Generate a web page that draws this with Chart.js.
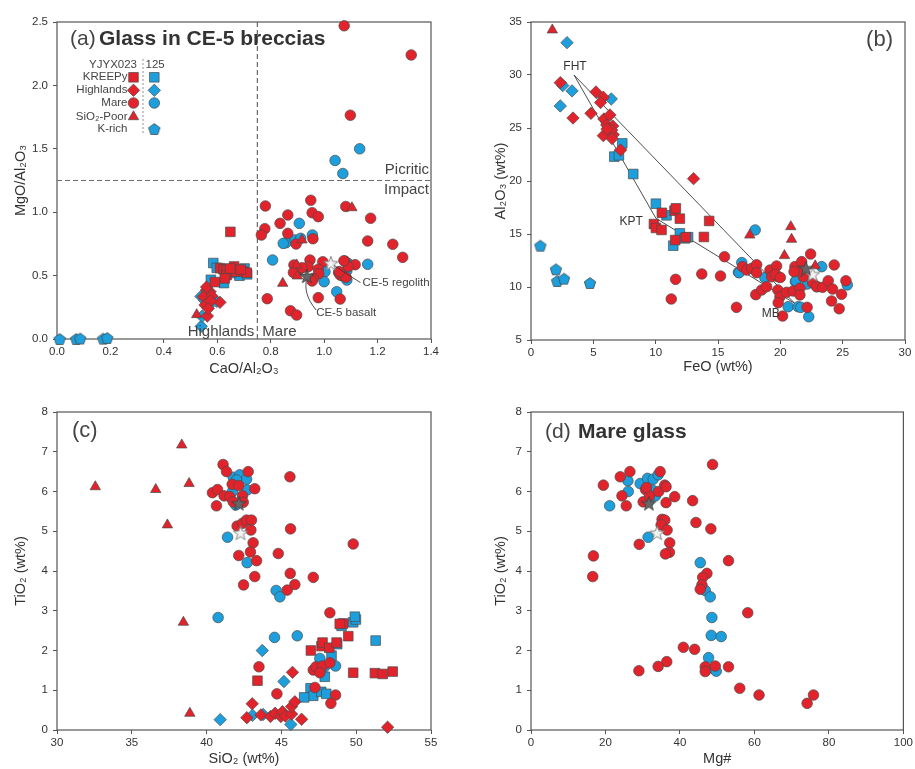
<!DOCTYPE html>
<html>
<head>
<meta charset="utf-8">
<script src="https://cdn.jsdelivr.net/npm/chart.js@4.4.1/dist/chart.umd.min.js"></script>
<style>
  body { margin: 0; background: #fff; }
  canvas { position: absolute; }
</style>
</head>
<body>
<canvas id="chartA" width="450" height="385" style="left:0;top:0"></canvas>
<canvas id="chartB" width="465" height="385" style="left:450px;top:0"></canvas>
<canvas id="chartC" width="450" height="384" style="left:0;top:385px"></canvas>
<canvas id="chartD" width="465" height="384" style="left:450px;top:385px"></canvas>
<script>
"use strict";

const FONT = '"Liberation Sans", Arial, sans-serif';
const RED = "#e2232b";
const BLUE = "#1c9fdc";
const EDGE = "#4a4a4a";

// ---- (a) MgO/Al2O3 vs CaO/Al2O3 ----
const aKreepRed = [[0.649,0.845],[0.591,0.449],[0.610,0.559],[0.623,0.550],[0.635,0.544],[0.635,0.504],[0.663,0.572],[0.670,0.531],[0.698,0.531],[0.710,0.523],[0.648,0.556],[0.688,0.548],[0.628,0.478]];
const aKreepBlue = [[0.585,0.599],[0.576,0.467],[0.625,0.441],[0.683,0.499],[0.712,0.510],[0.660,0.552],[0.598,0.561],[0.702,0.556],[0.652,0.520]];
const aHighRed = [[0.560,0.386],[0.573,0.373],[0.548,0.334],[0.579,0.339],[0.554,0.268],[0.563,0.181],[0.610,0.289],[0.560,0.410],[0.575,0.300],[0.566,0.240]];
const aHighBlue = [[0.539,0.336],[0.540,0.100],[0.543,0.179],[0.566,0.257],[0.598,0.297],[0.552,0.305],[0.585,0.320]];
const aMareRed = [[1.075,2.47],[1.326,2.24],[1.098,1.765],[1.081,1.045],[0.950,1.094],[0.955,0.996],[0.978,0.965],[1.174,0.952],[0.780,1.049],[0.864,0.978],[0.835,0.912],[0.864,0.833],[0.778,0.870],[0.765,0.820],[0.958,0.791],[0.895,0.749],[1.163,0.773],[1.257,0.747],[1.294,0.644],[1.116,0.586],[1.078,0.614],[1.090,0.572],[0.995,0.609],[0.947,0.623],[0.940,0.570],[0.887,0.584],[0.904,0.544],[0.917,0.562],[0.885,0.525],[0.978,0.550],[0.980,0.515],[0.960,0.478],[0.955,0.457],[1.054,0.525],[1.060,0.504],[1.070,0.497],[1.082,0.487],[1.057,0.531],[0.978,0.326],[1.060,0.315],[0.787,0.318],[0.874,0.223],[0.897,0.189],[1.074,0.617]];
const aMareBlue = [[1.041,1.408],[1.070,1.305],[1.133,1.500],[0.907,0.912],[0.857,0.759],[0.847,0.754],[0.891,0.781],[0.912,0.794],[0.956,0.820],[0.807,0.623],[1.003,0.531],[1.000,0.452],[1.085,0.539],[1.085,0.465],[1.163,0.589],[1.047,0.373],[1.090,0.595]];
const aSiPoorRed = [[1.104,1.035],[0.917,0.781],[0.897,0.584],[0.900,0.497],[0.845,0.439],[0.523,0.192]];
const aKrichBlue = [[0.010,0.000],[0.072,0.000],[0.087,0.004],[0.173,0.003],[0.188,0.008]];
const aBasalt = [[0.935,0.497]];
const aRegolith = [[1.025,0.597]];
const aBasaltLeader = [[0.933,0.480],[0.933,0.385],[0.948,0.295],[0.970,0.228]];
const aRegolithLeader = [[1.035,0.585],[1.080,0.520],[1.136,0.445]];
const aCaoSplit = 0.75;
const aMgoSplit = 1.25;

// ---- (b) Al2O3 vs FeO ----
const bKreepRed = [[10.50,17.00],[11.51,17.20],[11.62,17.42],[11.94,16.45],[9.86,15.94],[10.02,15.57],[10.47,15.38],[11.57,14.43],[12.42,14.69],[13.87,14.72],[14.29,16.23]];
const bKreepBlue = [[7.32,23.55],[6.68,22.30],[7.05,22.42],[8.20,20.66],[10.02,17.86],[10.87,16.76],[11.94,15.06],[11.41,13.90],[12.34,14.59],[12.60,14.70]];
const bHighRed = [[2.35,29.28],[3.37,25.94],[4.81,26.38],[5.21,28.40],[5.80,27.90],[5.58,27.40],[5.85,25.85],[6.07,25.28],[6.33,26.23],[6.55,25.19],[5.80,24.28],[6.60,24.37],[6.47,24.80],[7.19,22.92],[13.04,20.22],[6.10,24.90],[6.50,24.00]];
const bHighBlue = [[2.89,33.05],[3.29,28.50],[2.35,27.08],[2.55,29.00],[6.44,27.74]];
const bMareRed = [[15.52,12.86],[13.70,11.23],[15.20,11.04],[11.60,10.72],[11.25,8.87],[16.48,8.08],[16.96,11.92],[17.30,11.60],[17.70,11.76],[18.10,12.10],[18.10,11.35],[18.03,9.28],[18.50,9.72],[18.90,10.03],[19.17,11.60],[19.70,11.98],[19.30,10.97],[19.83,10.97],[19.80,9.72],[19.97,9.08],[19.83,8.52],[20.18,7.26],[20.50,9.50],[21.03,9.62],[21.57,9.88],[21.57,9.25],[21.17,11.92],[21.71,12.39],[21.84,10.97],[22.43,13.11],[22.59,10.40],[22.91,10.03],[23.39,9.97],[23.84,10.59],[24.19,9.81],[24.32,12.08],[24.11,8.68],[24.91,9.31],[24.72,7.95],[25.26,10.59],[22.15,8.08],[21.60,11.50],[21.10,11.45],[19.60,11.20],[20.00,10.90]];
const bMareBlue = [[17.98,15.38],[16.91,12.30],[16.64,11.38],[18.76,10.88],[21.21,10.50],[20.63,8.14],[21.43,8.14],[21.64,8.08],[22.28,7.20],[23.32,11.92],[22.15,10.28],[25.37,10.20],[22.95,10.03],[16.70,11.35],[21.25,10.57]];
const bSiPoorRed = [[1.71,34.25],[17.55,14.90],[20.84,15.69],[20.90,14.50],[20.33,12.96],[22.80,12.00]];
const bKrichBlue = [[0.75,13.90],[2.00,11.67],[2.10,10.57],[2.65,10.79],[4.73,10.38]];
const bBasalt = [[22.05,11.76]];
const bRegolith = [[22.59,11.20]];
const bFHT = [3.45, 30.0];
const bKPT = [10.02, 16.48];
const bMB = [21.15, 8.46];

// ---- (c) TiO2 vs SiO2 ----
const cKreepRed = [[43.40,1.24],[46.97,2.00],[47.68,2.11],[47.75,2.20],[48.20,2.07],[48.69,2.20],[49.13,2.68],[49.47,2.36],[49.80,1.44],[51.25,1.43],[51.77,1.41],[52.44,1.47],[48.90,2.67]];
const cKreepBlue = [[49.02,2.62],[49.80,2.71],[49.98,2.78],[49.91,2.85],[51.30,2.25],[48.35,1.87],[47.90,1.34],[48.73,2.16],[46.95,1.05],[47.13,0.86],[46.52,0.82],[47.66,0.96],[48.00,0.91]];
const cHighRed = [[42.69,0.31],[43.05,0.66],[43.63,0.38],[44.27,0.34],[44.58,0.42],[44.96,0.34],[45.07,0.46],[45.27,0.35],[45.68,0.40],[45.68,0.59],[45.90,0.71],[46.35,0.27],[45.74,1.45],[52.10,0.07]];
const cHighBlue = [[40.91,0.26],[43.07,0.37],[43.78,0.39],[43.72,2.00],[45.17,1.22],[45.63,0.14]];
const cMareRed = [[41.10,6.68],[41.33,6.50],[42.78,6.50],[40.39,5.97],[40.73,6.05],[40.66,5.64],[41.17,5.89],[41.55,5.87],[41.71,6.18],[42.15,6.15],[41.78,5.74],[42.40,5.89],[42.45,5.73],[43.22,6.07],[45.57,6.37],[42.04,5.13],[42.40,5.20],[42.67,5.28],[43.00,5.28],[42.96,5.03],[43.11,4.71],[42.15,4.39],[42.93,4.48],[43.34,4.26],[42.47,3.65],[43.22,3.86],[44.79,4.44],[45.61,5.06],[49.80,4.68],[45.59,3.94],[45.90,3.66],[45.39,3.52],[47.13,3.84],[48.24,2.95],[43.50,1.59],[44.70,0.91],[47.13,1.51],[47.31,1.59],[47.75,1.61],[48.24,1.69],[47.57,1.44],[48.62,0.88],[48.31,0.67],[47.24,1.07]];
const cMareBlue = [[41.78,6.36],[42.22,6.42],[42.67,6.31],[42.00,6.29],[41.73,6.00],[42.71,6.04],[41.95,5.66],[41.40,4.85],[42.71,4.21],[44.65,3.51],[44.90,3.35],[40.77,2.83],[44.54,2.33],[46.06,2.37],[47.57,1.80],[48.62,1.61],[47.66,1.55],[47.88,1.59]];
const cSiPoorRed = [[38.34,7.17],[32.56,6.12],[36.60,6.05],[38.83,6.20],[37.38,5.16],[38.45,2.71],[38.88,0.42]];
const cBasalt = [[42.15,5.70]];
const cRegolith = [[42.27,4.96]];

// ---- (d) TiO2 vs Mg# (mare glass) ----
const dMareRed = [[48.75,6.68],[26.56,6.50],[34.67,6.50],[23.97,6.37],[19.43,6.16],[24.42,5.89],[25.58,5.64],[30.12,5.74],[30.75,6.05],[31.82,5.89],[34.28,6.00],[35.92,6.16],[36.27,6.12],[36.27,5.72],[38.59,5.87],[43.40,5.77],[44.30,5.22],[48.30,5.06],[35.20,5.30],[35.92,5.28],[34.94,5.16],[36.54,5.03],[37.25,4.71],[37.17,4.47],[36.10,4.43],[29.06,4.67],[16.76,4.38],[16.58,3.86],[53.03,4.26],[47.24,3.94],[46.10,3.84],[45.90,3.65],[45.45,3.54],[58.20,2.95],[40.91,2.08],[43.94,2.03],[36.45,1.72],[34.14,1.60],[28.97,1.49],[46.79,1.59],[46.79,1.47],[49.47,1.61],[53.03,1.59],[56.06,1.05],[61.23,0.88],[74.15,0.67],[75.85,0.88],[31.00,6.10]];
const dMareBlue = [[21.12,5.64],[26.02,6.27],[26.11,6.00],[29.32,6.20],[31.28,6.33],[32.80,6.31],[34.14,6.42],[32.53,6.04],[33.42,5.89],[31.46,4.85],[45.45,4.21],[46.79,3.51],[48.13,3.35],[48.57,2.83],[48.40,2.38],[51.07,2.35],[47.68,1.82],[49.02,1.55],[49.73,1.48],[31.60,5.75]];
const dBasalt = [[31.64,5.70]];
const dRegolith = [[33.87,4.96]];

// legend of panel (a)
const legendHead = ["YJYX023", "125"];
const legendRows = ["KREEPy", "Highlands", "Mare", "SiO\u2082-Poor", "K-rich"];

// ---- shapes the library does not have ----
function shapeCanvas(size, paint) {
  const c = document.createElement("canvas");
  c.width = size;
  c.height = size;
  paint(c.getContext("2d"), size / 2);
  return c;
}
function polygon(g, c, n, rOut, rIn) {
  const k = rIn ? n * 2 : n;
  g.beginPath();
  for (let i = 0; i < k; i++) {
    const r = rIn && i % 2 ? rIn : rOut;
    const ang = -Math.PI / 2 + (i * Math.PI * 2) / k;
    const px = c + r * Math.cos(ang);
    const py = c + 0.6 + r * Math.sin(ang);
    if (i) g.lineTo(px, py); else g.moveTo(px, py);
  }
  g.closePath();
}
const pentagon = shapeCanvas(14, (g, c) => {
  polygon(g, c, 5, 6);
  g.fillStyle = BLUE; g.fill();
  g.strokeStyle = EDGE; g.lineWidth = 0.8; g.stroke();
});
const starDark = shapeCanvas(18, (g, c) => {
  polygon(g, c, 5, 7.6, 3.1);
  g.fillStyle = "#666"; g.fill();
  g.strokeStyle = "#3c3c3c"; g.lineWidth = 0.8; g.stroke();
});
const starLight = shapeCanvas(18, (g, c) => {
  polygon(g, c, 5, 7.6, 3.1);
  g.fillStyle = "#f3f3f3"; g.fill();
  g.strokeStyle = "#7a7a7a"; g.lineWidth = 0.9; g.stroke();
});

const SIZE = { circle: 5.3, rect: 6.8, rectRot: 6.2, triangle: 6 };
const pts = (arr) => arr.map(([x, y]) => ({ x, y }));

const marks = (data, style, color) => ({
  data: pts(data),
  pointStyle: style,
  pointRadius: typeof style === "string" ? SIZE[style] : 6,
  pointHoverRadius: typeof style === "string" ? SIZE[style] : 6,
  backgroundColor: color,
  borderColor: EDGE,
  borderWidth: 0.7,
  clip: false,
});
const line = (data, dash, width, tension) => ({
  data: pts(data),
  showLine: true,
  pointRadius: 0,
  pointHoverRadius: 0,
  borderColor: dash ? "#6a6a6a" : "#3a3a3a",
  borderWidth: width,
  borderDash: dash || [],
  tension: tension || 0,
  fill: false,
});

// draws a legend symbol the same way the points look
function drawSymbol(ctx, style, color, x, y) {
  if (typeof style !== "string") {
    ctx.drawImage(style, x - style.width / 2, y - style.height / 2);
    return;
  }
  const r = SIZE[style];
  ctx.beginPath();
  if (style === "circle") ctx.arc(x, y, r, 0, Math.PI * 2);
  if (style === "rect") { const s = r * Math.SQRT1_2; ctx.rect(x - s, y - s, 2 * s, 2 * s); }
  if (style === "rectRot") { ctx.moveTo(x - r, y); ctx.lineTo(x, y - r); ctx.lineTo(x + r, y); ctx.lineTo(x, y + r); ctx.closePath(); }
  if (style === "triangle") {
    for (let i = 0; i < 3; i++) {
      const a = (i * 2 * Math.PI) / 3;
      const px = x + Math.sin(a) * r, py = y - Math.cos(a) * r;
      if (i) ctx.lineTo(px, py); else ctx.moveTo(px, py);
    }
    ctx.closePath();
  }
  ctx.fillStyle = color; ctx.fill();
  ctx.strokeStyle = EDGE; ctx.lineWidth = 0.7; ctx.stroke();
}

const legendRed = ["rect", "rectRot", "circle", "triangle", null];
const legendBlue = ["rect", "rectRot", "circle", null, pentagon];

const decor = {
  id: "decor",
  beforeDatasetsDraw(chart) {
    const { ctx, chartArea: a } = chart;
    ctx.save();
    ctx.strokeStyle = "#555";
    ctx.lineWidth = 1.2;
    ctx.strokeRect(a.left, a.top, a.right - a.left, a.bottom - a.top);
    ctx.restore();
  },
  afterDatasetsDraw(chart, args, opts) {
    const { ctx, chartArea: a, scales } = chart;
    ctx.save();
    ctx.textBaseline = "middle";
    (opts.texts || []).forEach((t) => {
      let px, py;
      if (t.x !== undefined) {
        px = scales.x.getPixelForValue(t.x);
        py = scales.y.getPixelForValue(t.y);
      } else {
        px = t.fromRight ? a.right : a.left;
        py = a.top;
      }
      ctx.font = (t.bold ? "bold " : "") + t.size + "px " + FONT;
      ctx.fillStyle = t.color || "#333";
      ctx.textAlign = t.align || "left";
      ctx.fillText(t.text, px + (t.dx || 0), py + (t.dy || 0));
    });

    if (opts.legend) {
      const lx = a.left, ly = a.top;
      ctx.font = "11.5px " + FONT;
      ctx.fillStyle = "#444";
      ctx.textAlign = "right";
      ctx.fillText(legendHead[0], lx + 80, ly + 43);
      ctx.textAlign = "left";
      ctx.fillText(legendHead[1], lx + 88.5, ly + 43);
      ctx.strokeStyle = "#777";
      ctx.lineWidth = 0.8;
      ctx.setLineDash([2, 2]);
      ctx.beginPath();
      ctx.moveTo(lx + 86, ly + 37);
      ctx.lineTo(lx + 86, ly + 113);
      ctx.stroke();
      ctx.setLineDash([]);
      const rowY = [55.3, 68.3, 81, 94.7, 107];
      legendRows.forEach((row, i) => {
        ctx.font = "11.5px " + FONT;
        ctx.fillStyle = "#444";
        ctx.textAlign = "right";
        ctx.fillText(row, lx + 70.5, ly + rowY[i]);
        if (legendRed[i]) drawSymbol(ctx, legendRed[i], RED, lx + 76.5, ly + rowY[i]);
        if (legendBlue[i]) drawSymbol(ctx, legendBlue[i], BLUE, lx + 97.3, ly + rowY[i]);
      });
    }
    ctx.restore();
  },
};

function axes(o) {
  const tickFont = { family: FONT, size: 11.5 };
  const titleFont = { family: FONT, size: 14.5 };
  const axis = (min, max, step, dec) => ({
    type: "linear",
    min, max,
    ticks: { stepSize: step, color: "#333", font: tickFont, autoSkip: false, maxRotation: 0, callback: (v) => v.toFixed(dec) },
    grid: { drawOnChartArea: false, drawTicks: true, tickLength: 4, color: "#555" },
    border: { display: false },
  });
  const x = axis(o.x[0], o.x[1], o.x[2], o.x[3]);
  x.ticks.padding = 2;
  x.title = { display: true, text: o.xTitle, color: "#333", font: titleFont, padding: { top: 0, bottom: o.xPad } };
  x.afterFit = (s) => { s.height = o.xH; };
  const y = axis(o.y[0], o.y[1], o.y[2], o.y[3]);
  y.ticks.padding = 5;
  y.title = { display: true, text: o.yTitle, color: "#333", font: titleFont, padding: { top: o.yPad, bottom: 0 } };
  y.afterFit = (s) => { s.width = o.yW; };
  return { x, y };
}

function makeChart(id, datasets, sc, pad, decorOpts) {
  return new Chart(document.getElementById(id), {
    type: "scatter",
    data: { datasets },
    options: {
      responsive: false,
      animation: false,
      events: [],
      layout: { padding: { left: 0, top: pad.top, right: pad.right, bottom: 0 } },
      scales: axes(sc),
      plugins: { legend: { display: false }, tooltip: { enabled: false }, decor: decorOpts },
    },
    plugins: [decor],
  });
}

// (a)
makeChart("chartA", [
  marks(aBasalt, starDark),
  marks(aRegolith, starLight),
  line(aBasaltLeader, null, 0.9, 0.35),
  line(aRegolithLeader, null, 0.9, 0.35),
  marks(aKreepRed, "rect", RED),
  marks(aHighRed, "rectRot", RED),
  marks(aSiPoorRed, "triangle", RED),
  marks(aMareRed, "circle", RED),
  marks(aKreepBlue, "rect", BLUE),
  marks(aHighBlue, "rectRot", BLUE),
  marks(aMareBlue, "circle", BLUE),
  marks(aKrichBlue, pentagon, BLUE),
  line([[aCaoSplit, 0], [aCaoSplit, 2.5]], [5, 3], 1.2),
  line([[0, aMgoSplit], [1.4, aMgoSplit]], [5, 3], 1.2),
], { x: [0, 1.4, 0.2, 1], y: [0, 2.5, 0.5, 1], xTitle: "CaO/Al\u2082O\u2083", yTitle: "MgO/Al\u2082O\u2083", xH: 46, yW: 57, xPad: 7.6, yPad: 12.6 },
{ top: 22, right: 19 },
{
  legend: true,
  texts: [
    { text: "(a)", size: 21, color: "#444", dx: 13, dy: 17 },
    { text: "Glass in CE-5 breccias", size: 21, bold: true, dx: 42, dy: 17 },
    { x: 1.4, y: aMgoSplit, dx: -2, dy: -11, text: "Picritic", size: 15, align: "right", color: "#444" },
    { x: 1.4, y: aMgoSplit, dx: -2, dy: 9, text: "Impact", size: 15, align: "right", color: "#444" },
    { x: aCaoSplit, y: 0, dx: -3, dy: -7, text: "Highlands", size: 15, align: "right", color: "#444" },
    { x: aCaoSplit, y: 0, dx: 5, dy: -7, text: "Mare", size: 15, align: "left", color: "#444" },
    { x: 1.14, y: 0.44, dx: 1, text: "CE-5 regolith", size: 11.5, color: "#444" },
    { x: 0.97, y: 0.205, text: "CE-5 basalt", size: 11.5, color: "#444" },
  ],
});

// (b)
makeChart("chartB", [
  marks(bBasalt, starDark),
  marks(bRegolith, starLight),
  marks(bKreepRed, "rect", RED),
  marks(bHighRed, "rectRot", RED),
  marks(bSiPoorRed, "triangle", RED),
  marks(bMareRed, "circle", RED),
  marks(bKreepBlue, "rect", BLUE),
  marks(bHighBlue, "rectRot", BLUE),
  marks(bMareBlue, "circle", BLUE),
  marks(bKrichBlue, pentagon, BLUE),
  line([bFHT, bKPT, bMB, bFHT], null, 0.9),
], { x: [0, 30, 5, 0], y: [5, 35, 5, 0], xTitle: "FeO (wt%)", yTitle: "Al\u2082O\u2083 (wt%)", xH: 45, yW: 81, xPad: 9.3, yPad: 42.6 },
{ top: 22, right: 10 },
{
  texts: [
    { text: "(b)", size: 22, color: "#444", fromRight: true, align: "right", dx: -12, dy: 18 },
    { x: bFHT[0], y: bFHT[1], dx: 1, dy: -8, text: "FHT", size: 12, align: "center" },
    { x: bKPT[0], y: bKPT[1], dx: -13, dy: 3, text: "KPT", size: 12, align: "right" },
    { x: bMB[0], y: bMB[1], dx: -15, dy: 10, text: "MB", size: 12, align: "right" },
  ],
});

// (c)
makeChart("chartC", [
  marks(cBasalt, starDark),
  marks(cRegolith, starLight),
  marks(cKreepRed, "rect", RED),
  marks(cHighRed, "rectRot", RED),
  marks(cSiPoorRed, "triangle", RED),
  marks(cMareRed, "circle", RED),
  marks(cKreepBlue, "rect", BLUE),
  marks(cHighBlue, "rectRot", BLUE),
  marks(cMareBlue, "circle", BLUE),
], { x: [30, 55, 5, 0], y: [0, 8, 1, 0], xTitle: "SiO\u2082 (wt%)", yTitle: "TiO\u2082 (wt%)", xH: 39, yW: 57, xPad: 1.3, yPad: 12.6 },
{ top: 27, right: 19 },
{
  texts: [{ text: "(c)", size: 22, color: "#444", dx: 15, dy: 19 }],
});

// (d)
makeChart("chartD", [
  marks(dBasalt, starDark),
  marks(dRegolith, starLight),
  marks(dMareRed, "circle", RED),
  marks(dMareBlue, "circle", BLUE),
], { x: [0, 100, 20, 0], y: [0, 8, 1, 0], xTitle: "Mg#", yTitle: "TiO\u2082 (wt%)", xH: 39, yW: 81, xPad: 1.3, yPad: 42.6 },
{ top: 27, right: 10 },
{
  texts: [
    { text: "(d)", size: 21, color: "#444", dx: 14, dy: 20 },
    { text: "Mare glass", size: 21, bold: true, dx: 47, dy: 20 },
  ],
});
</script>
</body>
</html>
